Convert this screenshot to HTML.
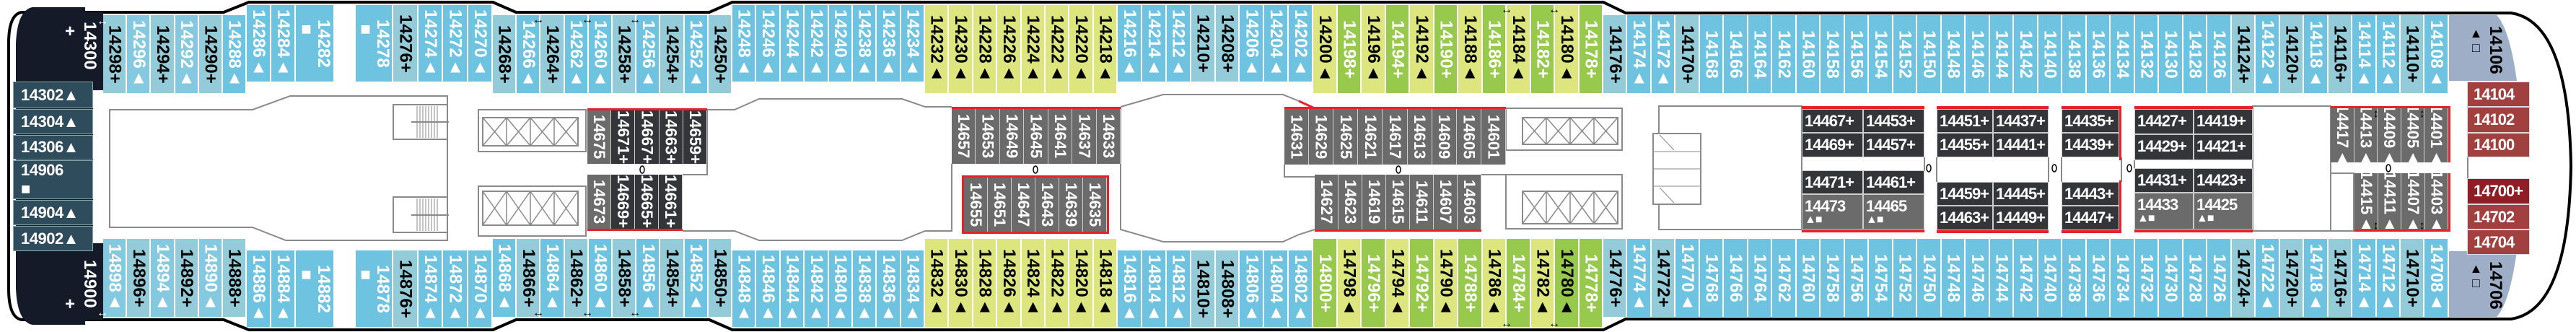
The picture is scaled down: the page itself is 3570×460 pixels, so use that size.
<!DOCTYPE html>
<html><head><meta charset="utf-8">
<style>
*{margin:0;padding:0;box-sizing:border-box}
body{width:3570px;height:460px;background:#fff;position:relative;overflow:hidden;font-family:"Liberation Sans",sans-serif;font-weight:bold}
svg{position:absolute;left:0;top:0}
.s{position:absolute;display:flex}
.s>i{flex:1;font-style:normal;display:flex;align-items:center;justify-content:center;writing-mode:vertical-rl;font-size:24px;line-height:1;border-right:2px solid #fff;color:#fff;background:#6ec3e0;white-space:nowrap;overflow:hidden}
.s>i.P{background:#93ccd8;color:#000}
.s>i.M{background:#84c9df}
.s>i.Y{background:#dde67e;color:#000}
.s>i.G{background:#97c94c;color:#fff}
.s>i.K{background:#97c94c;color:#000}
.s>i.W{background:#fff}
.t1{top:21px;height:108px}.t2{top:7px;height:106px}.t3{top:7px;height:122px}
.b1{top:331px;height:108px}.b2{top:347px;height:106px}.b3{top:331px;height:122px}
.d{position:absolute;display:flex}
.d>i{flex:1;font-style:normal;display:flex;align-items:center;justify-content:center;writing-mode:vertical-rl;font-size:22px;line-height:1;color:#fff;background:#333538;border-right:1px solid #ccc;white-space:nowrap;overflow:hidden}
.d>i.g{background:#6b6b6b}
.h{position:absolute;background:#333538;color:#fff;font-size:22px;letter-spacing:-1px;display:flex;align-items:flex-start;padding:5px 0 0 3px;line-height:1;border:1px solid #ccc;white-space:nowrap}
.h.g{background:#6b6b6b;flex-direction:column}
.r{position:absolute;background:#e8202a}
.red{position:absolute;left:3419px;width:87px;background:#a2403f;color:#fff;font-size:22px;letter-spacing:-1px;display:flex;align-items:center;padding-left:8px;border:1px solid #ddd}
.sl{position:absolute;left:18px;width:111px;background:#2f4c5c;color:#fff;font-size:22px;display:flex;align-items:center;padding-left:10px;border:1px solid #8aa;letter-spacing:-0.5px}
.ar{position:absolute;font-size:16px;color:#000;line-height:1}
</style></head><body>
<svg width="3570" height="460">
<path d="M30,17 L310,17 L345,3 L683,3 L715,17 L983,17 L1015,3 L2222,3 L2253,18 L3480,18 Q3560,30 3563,230 Q3560,430 3480,442 L2253,442 L2222,457 L1015,457 L983,443 L715,443 L683,457 L345,457 L310,443 L30,443 Q12,440 12,400 L12,60 Q12,20 30,17 Z" fill="#fff" stroke="#000" stroke-width="4"/>
<path d="M143,17 L118,17 L118,10 L45,10 Q24,14 22,60 L22,400 Q24,446 45,450 L118,450 L118,443 L143,443 L143,337 L129,337 L129,125 L143,125 Z" fill="#141a28"/>
<g fill="none" stroke="#8a8a8a" stroke-width="2">
<path d="M152,152 L350,152 L402,133 L620,133 L620,333 L396,333 L350,315 L152,315 Z"/>
<rect x="545" y="145" width="75" height="48"/><rect x="545" y="273" width="75" height="49"/>
<path d="M578,147V191M582,147V191M586,147V191M590,147V191M594,147V191M598,147V191M602,147V191M606,147V191M578,275V320M582,275V320M586,275V320M590,275V320M594,275V320M598,275V320M602,275V320M606,275V320" stroke-width="1"/>
<path d="M570,169H622M570,298H622"/>
<rect x="663" y="152" width="149" height="58"/><rect x="663" y="258" width="149" height="69"/>
<rect x="669" y="163" width="132" height="39"/><rect x="669" y="265" width="132" height="47"/>
<path d="M702,163V202M735,163V202M768,163V202M669,163L702,202M702,163L669,202M702,163L735,202M735,163L702,202M735,163L768,202M768,163L735,202M768,163L801,202M801,163L768,202" stroke-width="1.5"/>
<path d="M702,265V312M735,265V312M768,265V312M669,265L702,312M702,265L669,312M702,265L735,312M735,265L702,312M735,265L768,312M768,265L735,312M768,265L801,312M801,265L768,312" stroke-width="1.5"/>
<path d="M980,152 L1018,152 L1052,137 L1250,137 L1282,148 L1319,148"/>
<path d="M980,152 V242 H946"/>
<path d="M946,320 L1018,320 L1052,333 L1250,333 L1282,320 L1319,320 V227"/>
<path d="M1553,148 L1612,131 L1778,131 L1800,140 M1553,148 V318 L1612,335 L1778,335 L1800,325 L1822,318"/>
<path d="M1780,228 V245 H1822"/>
<rect x="2087" y="150" width="161" height="58"/><rect x="2087" y="242" width="161" height="75"/>
<path d="M2053,242 H2087"/>
<rect x="2110" y="163" width="132" height="37"/><rect x="2110" y="265" width="132" height="45"/>
<path d="M2143,163V200M2176,163V200M2209,163V200M2110,163L2143,200M2143,163L2110,200M2143,163L2176,200M2176,163L2143,200M2176,163L2209,200M2209,163L2176,200M2209,163L2242,200M2242,163L2209,200" stroke-width="1.5"/>
<path d="M2143,265V310M2176,265V310M2209,265V310M2110,265L2143,310M2143,265L2110,310M2143,265L2176,310M2176,265L2143,310M2176,265L2209,310M2209,265L2176,310M2209,265L2242,310M2242,265L2209,310" stroke-width="1.5"/>
<rect x="2299" y="147" width="198" height="171"/>
<rect x="2291" y="185" width="66" height="98" fill="#fff"/>
<path d="M2291,210H2357M2291,234H2357M2291,258H2357M2300,187L2320,208M2300,260L2320,281" stroke-width="1"/>
<path d="M2667,218 V237 M2684,218 V252 M2839,218 V252 M2857,218 V252 M2940,218 V252 M2958,222 V233 M3122,222 V233"/>
<rect x="3122" y="147" width="108" height="173"/>
<rect x="3230" y="240" width="32" height="80"/>
<path d="M3420,218 V247"/>
</g>
<path d="M1800,140 L1822,150" stroke="#e8202a" stroke-width="3"/>
<g fill="none" stroke="#000" stroke-width="1.5">
<ellipse cx="890" cy="235" rx="3" ry="5"/><ellipse cx="1435" cy="235" rx="3" ry="5"/><ellipse cx="1938" cy="235" rx="3" ry="5"/><ellipse cx="2673" cy="233" rx="3" ry="5"/><ellipse cx="2847" cy="233" rx="3" ry="5"/><ellipse cx="2951" cy="233" rx="3" ry="5"/><ellipse cx="3310" cy="233" rx="3" ry="5"/>
</g>
<path d="M3394,21 L3460,21 Q3478,40 3488,112 L3394,112 Z" fill="#9daec6"/>
<path d="M3394,439 L3460,439 Q3478,420 3488,348 L3394,348 Z" fill="#9daec6"/>
</svg>

<!-- stern -->
<div style="position:absolute;left:112px;top:30px;writing-mode:vertical-rl;color:#fff;font-size:24px;line-height:1">14300</div>
<div style="position:absolute;left:90px;top:30px;color:#fff;font-size:24px">+</div>
<div style="position:absolute;left:112px;top:360px;writing-mode:vertical-rl;color:#fff;font-size:24px;line-height:1">14900</div>
<div style="position:absolute;left:90px;top:408px;color:#fff;font-size:24px">+</div>
<div class="sl" style="top:113px;height:37px">14302▲</div>
<div class="sl" style="top:151px;height:35px">14304▲</div>
<div class="sl" style="top:187px;height:34px">14306▲</div>
<div class="sl" style="top:222px;height:54px;flex-direction:column;align-items:flex-start;justify-content:center">14906<span>■</span></div>
<div class="sl" style="top:277px;height:35px">14904▲</div>
<div class="sl" style="top:313px;height:35px">14902▲</div>

<!-- top row -->
<div class="s t1" style="left:143px;width:199px"><i class="P">14298+</i><i class="M">14296▲</i><i class="P">14294+</i><i class="M">14292▲</i><i class="P">14290+</i><i>14288▲</i></div>
<div class="s t2" style="left:342px;width:341px"><i style="flex:0 0 34px">14286▲</i><i style="flex:0 0 34px">14284▲</i><i style="flex:0 0 54px">14282<br>■</i><i class="W" style="flex:0 0 29px"></i><i style="flex:0 0 52px">14278<br>■</i><i class="P" style="flex:0 0 35px">14276+</i><i style="flex:0 0 34px">14274▲</i><i style="flex:0 0 35px">14272▲</i><i style="flex:0 0 34px">14270▲</i></div>
<div class="s t1" style="left:683px;width:332px"><i class="P">14268+</i><i>14266▲</i><i class="P">14264+</i><i>14262▲</i><i>14260▲</i><i class="P">14258+</i><i>14256▲</i><i class="P">14254+</i><i>14252▲</i><i class="P">14250+</i></div>
<div class="s t2" style="left:1015px;width:267px"><i>14248▲</i><i>14246▲</i><i>14244▲</i><i>14242▲</i><i>14240▲</i><i>14238▲</i><i>14236▲</i><i>14234▲</i></div>
<div class="s t3" style="left:1282px;width:267px"><i class="Y">14232▲</i><i class="Y">14230▲</i><i class="Y">14228▲</i><i class="Y">14226▲</i><i class="Y">14224▲</i><i class="Y">14222▲</i><i class="Y">14220▲</i><i class="Y">14218▲</i></div>
<div class="s t2" style="left:1549px;width:271px"><i>14216▲</i><i>14214▲</i><i>14212▲</i><i class="P">14210+</i><i class="P">14208+</i><i>14206▲</i><i>14204▲</i><i>14202▲</i></div>
<div class="s t3" style="left:1820px;width:402px"><i class="Y">14200▲</i><i class="G">14198+</i><i class="Y">14196▲</i><i class="G">14194+</i><i class="Y">14192▲</i><i class="G">14190+</i><i class="Y">14188▲</i><i class="G">14186+</i><i class="Y">14184▲</i><i class="G">14182+</i><i class="Y">14180▲</i><i class="G">14178+</i></div>
<div class="s t1" style="left:2222px;width:1172px"><i class="P">14176+</i><i>14174▲</i><i>14172▲</i><i class="P">14170+</i><i>14168</i><i>14166</i><i>14164</i><i>14162</i><i>14160</i><i>14158</i><i>14156</i><i>14154</i><i>14152</i><i>14150</i><i>14148</i><i>14146</i><i>14144</i><i>14142</i><i>14140</i><i>14138</i><i>14136</i><i>14134</i><i>14132</i><i>14130</i><i>14128</i><i>14126</i><i class="P">14124+</i><i>14122▲</i><i class="P">14120+</i><i>14118▲</i><i class="P">14116+</i><i>14114▲</i><i>14112▲</i><i class="P">14110+</i><i>14108▲</i></div>
<div style="position:absolute;left:3418px;top:36px;writing-mode:vertical-rl;font-size:24px;line-height:1.1;color:#000">14106<br><span style="font-size:18px">▲□</span></div>

<!-- bottom row -->
<div class="s b1" style="left:143px;width:199px"><i class="M">14898▲</i><i class="P">14896+</i><i class="M">14894▲</i><i class="P">14892+</i><i class="M">14890▲</i><i class="P">14888+</i></div>
<div class="s b2" style="left:342px;width:341px"><i style="flex:0 0 34px">14886▲</i><i style="flex:0 0 34px">14884▲</i><i style="flex:0 0 54px">14882<br>■</i><i class="W" style="flex:0 0 29px"></i><i style="flex:0 0 52px">14878<br>■</i><i class="P" style="flex:0 0 35px">14876+</i><i style="flex:0 0 34px">14874▲</i><i style="flex:0 0 35px">14872▲</i><i style="flex:0 0 34px">14870▲</i></div>
<div class="s b1" style="left:683px;width:332px"><i>14868▲</i><i class="P">14866+</i><i>14864▲</i><i class="P">14862+</i><i>14860▲</i><i class="P">14858+</i><i>14856▲</i><i class="P">14854+</i><i>14852▲</i><i class="P">14850+</i></div>
<div class="s b2" style="left:1015px;width:267px"><i>14848▲</i><i>14846▲</i><i>14844▲</i><i>14842▲</i><i>14840▲</i><i>14838▲</i><i>14836▲</i><i>14834▲</i></div>
<div class="s b3" style="left:1282px;width:267px"><i class="Y">14832▲</i><i class="Y">14830▲</i><i class="Y">14828▲</i><i class="Y">14826▲</i><i class="Y">14824▲</i><i class="Y">14822▲</i><i class="Y">14820▲</i><i class="Y">14818▲</i></div>
<div class="s b2" style="left:1549px;width:271px"><i>14816▲</i><i>14814▲</i><i>14812▲</i><i class="P">14810+</i><i class="P">14808+</i><i>14806▲</i><i>14804▲</i><i>14802▲</i></div>
<div class="s b3" style="left:1820px;width:402px"><i class="G">14800+</i><i class="Y">14798▲</i><i class="G">14796+</i><i class="Y">14794▲</i><i class="G">14792+</i><i class="Y">14790▲</i><i class="G">14788+</i><i class="Y">14786▲</i><i class="G">14784+</i><i class="Y">14782▲</i><i class="K">14780▲</i><i class="G">14778+</i></div>
<div class="s b1" style="left:2222px;width:1172px"><i class="P">14776+</i><i>14774▲</i><i class="P">14772+</i><i>14770▲</i><i>14768</i><i>14766</i><i>14764</i><i>14762</i><i>14760</i><i>14758</i><i>14756</i><i>14754</i><i>14752</i><i>14750</i><i>14748</i><i>14746</i><i>14744</i><i>14742</i><i>14740</i><i>14738</i><i>14736</i><i>14734</i><i>14732</i><i>14730</i><i>14728</i><i>14726</i><i class="P">14724+</i><i>14722▲</i><i class="P">14720+</i><i>14718▲</i><i class="P">14716+</i><i>14714▲</i><i>14712▲</i><i class="P">14710+</i><i>14708▲</i></div>
<div style="position:absolute;left:3418px;top:362px;writing-mode:vertical-rl;font-size:24px;line-height:1.1;color:#000">14706<br><span style="font-size:18px">▲□</span></div>

<!-- arrows -->
<div class="ar" style="left:134px;top:22px;color:#fff">↔</div>
<div class="ar" style="left:738px;top:20px">↔</div><div class="ar" style="left:806px;top:20px">↔</div><div class="ar" style="left:872px;top:20px">↔</div>
<div class="ar" style="left:134px;top:426px;color:#fff">↔</div>
<div class="ar" style="left:738px;top:426px">↔</div><div class="ar" style="left:806px;top:426px">↔</div><div class="ar" style="left:872px;top:426px">↔</div>
<div class="ar" style="left:2080px;top:6px">↔</div><div class="ar" style="left:2146px;top:6px">↔</div>
<div class="ar" style="left:2080px;top:441px">↔</div><div class="ar" style="left:2146px;top:441px">↔</div>

<!-- dark blocks -->
<div class="d" style="left:814px;top:150px;width:166px;height:77px;border-top:3px solid #e8202a"><i class="g">14675</i><i>14671+</i><i>14667+</i><i>14663+</i><i>14659+</i></div>
<div class="d" style="left:814px;top:242px;width:132px;height:78px;border-bottom:3px solid #e8202a"><i class="g">14673</i><i>14669+</i><i>14665+</i><i>14661+</i></div>
<div class="d" style="left:1319px;top:148px;width:234px;height:79px;border-top:3px solid #e8202a"><i class="g">14657</i><i class="g">14653</i><i class="g">14649</i><i class="g">14645</i><i class="g">14641</i><i class="g">14637</i><i class="g">14633</i></div>
<div class="d" style="left:1333px;top:243px;width:204px;height:81px;border:3px solid #e8202a"><i class="g">14655</i><i class="g">14651</i><i class="g">14647</i><i class="g">14643</i><i class="g">14639</i><i class="g">14635</i></div>
<div class="d" style="left:1780px;top:148px;width:307px;height:80px;border-top:3px solid #e8202a"><i class="g">14631</i><i class="g">14629</i><i class="g">14625</i><i class="g">14621</i><i class="g">14617</i><i class="g">14613</i><i class="g">14609</i><i class="g">14605</i><i class="g">14601</i></div>
<div class="d" style="left:1822px;top:242px;width:231px;height:79px;border-bottom:3px solid #e8202a"><i class="g">14627</i><i class="g">14623</i><i class="g">14619</i><i class="g">14615</i><i class="g">14611</i><i class="g">14607</i><i class="g">14603</i></div>

<div class="r" style="left:2497px;top:147px;width:170px;height:4px"></div>
<div class="h" style="left:2497px;top:151px;width:85px;height:33px">14467+</div><div class="h" style="left:2582px;top:151px;width:85px;height:33px">14453+</div>
<div class="h" style="left:2497px;top:184px;width:85px;height:34px">14469+</div><div class="h" style="left:2582px;top:184px;width:85px;height:34px">14457+</div>
<div class="h" style="left:2497px;top:236px;width:85px;height:33px">14471+</div><div class="h" style="left:2582px;top:236px;width:85px;height:33px">14461+</div>
<div class="h g" style="left:2497px;top:269px;width:85px;height:49px">14473<span style="font-size:16px">▲■</span></div><div class="h g" style="left:2582px;top:269px;width:85px;height:49px">14465<span style="font-size:16px">▲■</span></div>
<div class="r" style="left:2497px;top:318px;width:170px;height:4px"></div>

<div class="r" style="left:2684px;top:147px;width:155px;height:4px"></div>
<div class="h" style="left:2684px;top:151px;width:78px;height:33px">14451+</div><div class="h" style="left:2762px;top:151px;width:77px;height:33px">14437+</div>
<div class="h" style="left:2684px;top:184px;width:78px;height:34px">14455+</div><div class="h" style="left:2762px;top:184px;width:77px;height:34px">14441+</div>
<div class="h" style="left:2684px;top:252px;width:78px;height:33px">14459+</div><div class="h" style="left:2762px;top:252px;width:77px;height:33px">14445+</div>
<div class="h" style="left:2684px;top:285px;width:78px;height:34px">14463+</div><div class="h" style="left:2762px;top:285px;width:77px;height:34px">14449+</div>
<div class="r" style="left:2684px;top:319px;width:155px;height:4px"></div>

<div class="r" style="left:2857px;top:147px;width:83px;height:4px"></div>
<div class="h" style="left:2857px;top:151px;width:80px;height:33px">14435+</div>
<div class="h" style="left:2857px;top:184px;width:80px;height:34px">14439+</div>
<div class="h" style="left:2857px;top:252px;width:80px;height:33px">14443+</div>
<div class="h" style="left:2857px;top:285px;width:80px;height:34px">14447+</div>
<div class="r" style="left:2937px;top:147px;width:3px;height:75px"></div><div class="r" style="left:2937px;top:250px;width:3px;height:73px"></div>
<div class="r" style="left:2857px;top:319px;width:83px;height:4px"></div>

<div class="r" style="left:2958px;top:147px;width:164px;height:4px"></div>
<div class="h" style="left:2958px;top:151px;width:82px;height:35px">14427+</div><div class="h" style="left:3040px;top:151px;width:82px;height:35px">14419+</div>
<div class="h" style="left:2958px;top:186px;width:82px;height:36px">14429+</div><div class="h" style="left:3040px;top:186px;width:82px;height:36px">14421+</div>
<div class="h" style="left:2958px;top:233px;width:82px;height:34px">14431+</div><div class="h" style="left:3040px;top:233px;width:82px;height:34px">14423+</div>
<div class="h g" style="left:2958px;top:267px;width:82px;height:51px">14433<span style="font-size:16px">▲■</span></div><div class="h g" style="left:3040px;top:267px;width:82px;height:51px">14425<span style="font-size:16px">▲■</span></div>
<div class="r" style="left:2958px;top:318px;width:164px;height:4px"></div>

<div class="d" style="left:3230px;top:147px;width:166px;height:78px;border-top:3px solid #e8202a;border-right:3px solid #e8202a"><i class="g">14417▲</i><i class="g">14413▲</i><i class="g">14409▲</i><i class="g">14405▲</i><i class="g">14401▲</i></div>
<div class="d" style="left:3263px;top:240px;width:133px;height:81px;border-bottom:3px solid #e8202a;border-right:3px solid #e8202a"><i class="g">14415▲</i><i class="g">14411▲</i><i class="g">14407▲</i><i class="g">14403▲</i></div>
<div class="ar" style="left:3286px;top:150px;transform:rotate(90deg)">↔</div><div class="ar" style="left:3350px;top:150px;transform:rotate(90deg)">↔</div>
<div class="ar" style="left:3286px;top:305px;transform:rotate(90deg)">↔</div><div class="ar" style="left:3350px;top:305px;transform:rotate(90deg)">↔</div>

<!-- red cabins -->
<div class="red" style="top:113px;height:35px">14104</div>
<div class="red" style="top:148px;height:36px">14102</div>
<div class="red" style="top:184px;height:34px">14100</div>
<div class="red" style="top:247px;height:36px;background:#8e1d26">14700+</div>
<div class="red" style="top:283px;height:35px">14702</div>
<div class="red" style="top:318px;height:35px">14704</div>
</body></html>
